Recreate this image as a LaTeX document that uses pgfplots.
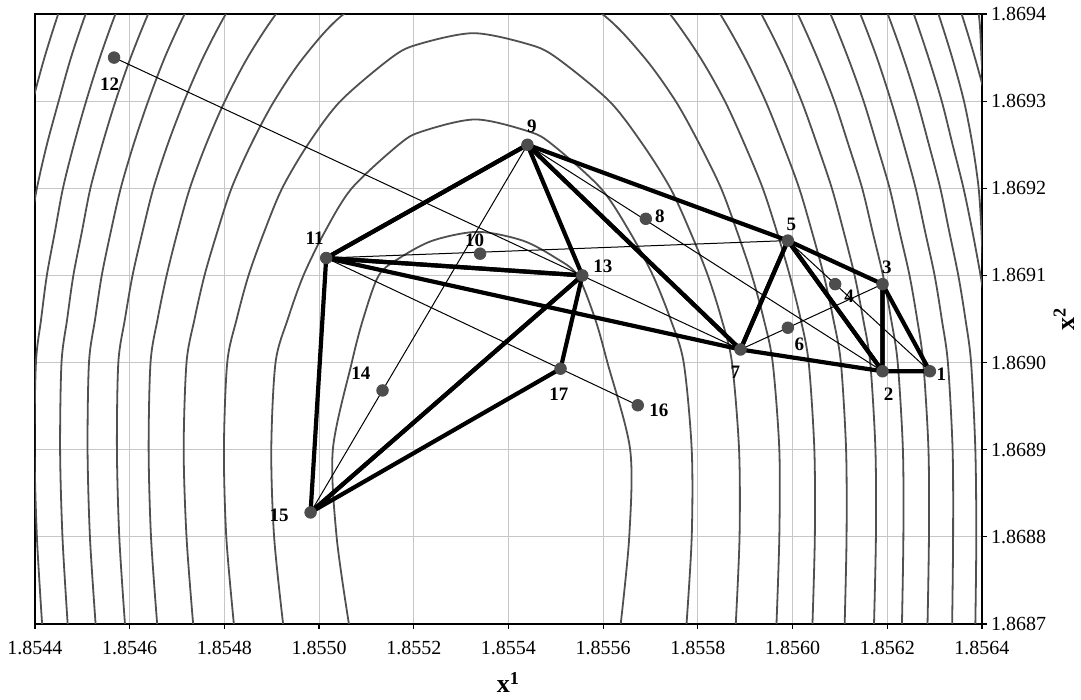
\documentclass[border=0pt]{standalone}
\usepackage{fontspec}
\setmainfont{Liberation Serif}
\usepackage{pgfplots}
\pgfplotsset{compat=1.18}
\usepackage{pgfplotstable}

\definecolor{ptgray}{HTML}{4D4D4D}
\definecolor{cgray}{HTML}{505050}

% points of the simplex search: x, y, label, label offset (pt)
\pgfplotstableread{
x        y        lab dx    dy
1.85629  1.86899  1   5.8   -1.7
1.85619  1.86899  2   3.0   -11.3
1.85619  1.86909  3   2.2   8.3
1.85609  1.86909  4   7.0   -5.8
1.85599  1.86914  5   1.8   8.3
1.85599  1.86904  6   5.8   -8.3
1.85589  1.869015 7   -2.5  -11.2
1.85569  1.869165 8   7.0   1.2
1.85544  1.86925  9   2.2   9.2
1.85534  1.869125 10  -2.7  6.5
1.855015 1.86912  11  -5.8  9.7
1.854567 1.86935  12  -2.2  -13.3
1.855556 1.8691   13  10.3  4.7
1.855134 1.868968 14  -10.8 8.8
1.854982 1.868828 15  -15.7 -1.2
1.855673 1.868951 16  10.5  -2.7
1.85551  1.868993 17  -0.8  -13
}\pts

\begin{document}
\begin{tikzpicture}
\begin{axis}[
  name=ax, at={(0,0)}, anchor=south west,
  scale only axis, width=473.5pt, height=305pt,
  xmin=1.8544, xmax=1.8564, ymin=1.8687, ymax=1.8694,
  xtick={1.8544,1.8546,1.8548,1.8550,1.8552,1.8554,1.8556,1.8558,1.8560,1.8562,1.8564},
  xticklabels={1.8544,1.8546,1.8548,1.8550,1.8552,1.8554,1.8556,1.8558,1.8560,1.8562,1.8564},
  ytick={1.8687,1.8688,1.8689,1.8690,1.8691,1.8692,1.8693,1.8694},
  yticklabels={1.8687,1.8688,1.8689,1.8690,1.8691,1.8692,1.8693,1.8694},
  scaled ticks=false,
  xtick pos=bottom, ytick pos=right, yticklabel pos=right,
  tick align=outside, major tick length=2.5pt,
  grid=major, major grid style={black!22, line width=0.5pt},
  axis line style={black, line width=0.6pt},
  tick style={black, line width=0.6pt},
  ticklabel style={font=\fontsize{10}{12}\selectfont},
  xticklabel style={yshift=-2.5pt},
  yticklabel style={xshift=-1.5pt},
  xlabel={\textbf{x\textsuperscript{1}}},
  ylabel={\textbf{x\textsuperscript{2}}},
  xlabel style={font=\fontsize{13}{15}\selectfont, at={(rel axis cs:0.5,0)}, anchor=base, yshift=-34.5pt},
  ylabel style={font=\fontsize{13}{15}\selectfont, at={(rel axis cs:1,0.5)}, anchor=center, yshift=-41pt},
  contour/.style={cgray, line width=0.9pt, smooth},
]

% level curves of the objective
\addplot[contour] coordinates {(1.855063,1.8687) (1.855037,1.8688) (1.855029,1.8689) (1.855069,1.8690) (1.855093,1.86905) (1.855126,1.8691) (1.855170,1.86912) (1.855240,1.86914) (1.855335,1.86915) (1.855430,1.86914) (1.855500,1.86912) (1.855546,1.8691) (1.855583,1.86905) (1.855609,1.8690) (1.855657,1.8689) (1.855655,1.8688) (1.855637,1.8687)};
\addplot[contour] coordinates {(1.854924,1.8687) (1.854905,1.8688) (1.854899,1.8689) (1.854908,1.8690) (1.854934,1.86905) (1.854967,1.8691) (1.855012,1.86915) (1.855069,1.8692) (1.855168,1.86925) (1.855216,1.869265) (1.855330,1.869279) (1.855444,1.869265) (1.855493,1.86925) (1.855595,1.8692) (1.855656,1.86915) (1.855705,1.8691) (1.855742,1.86905) (1.855770,1.8690) (1.855787,1.8689) (1.855787,1.8688) (1.855776,1.8687)};
\addplot[contour] coordinates {(1.854820,1.8687) (1.854804,1.8688) (1.854799,1.8689) (1.854806,1.8690) (1.854826,1.86905) (1.854851,1.8691) (1.854884,1.86915) (1.854922,1.8692) (1.854976,1.86925) (1.855045,1.8693) (1.855153,1.86935) (1.855208,1.869365) (1.855326,1.869378) (1.855444,1.869365) (1.855501,1.86935) (1.855613,1.8693) (1.855684,1.86925) (1.855742,1.8692) (1.855784,1.86915) (1.855821,1.8691) (1.855850,1.86905) (1.855872,1.8690) (1.855887,1.8689) (1.855888,1.8688) (1.855880,1.8687)};
\addplot[contour] coordinates {(1.854734,1.8687) (1.854720,1.8688) (1.854714,1.8689) (1.854720,1.8690) (1.854737,1.86905) (1.854758,1.8691) (1.854785,1.86915) (1.854815,1.8692) (1.854856,1.86925) (1.854905,1.8693) (1.854967,1.86935) (1.855052,1.8694) (1.855203,1.86945) (1.855322,1.869461) (1.855443,1.86945) (1.855598,1.8694) (1.855687,1.86935) (1.855753,1.8693) (1.855804,1.86925) (1.855849,1.8692) (1.855883,1.86915) (1.855914,1.8691) (1.855939,1.86905) (1.855958,1.8690) (1.855972,1.8689) (1.855972,1.8688) (1.855966,1.8687)};
\addplot[contour] coordinates {(1.854658,1.8687) (1.854645,1.8688) (1.854640,1.8689) (1.854644,1.8690) (1.854659,1.86905) (1.854678,1.8691) (1.854701,1.86915) (1.854727,1.8692) (1.854761,1.86925) (1.854801,1.8693) (1.854849,1.86935) (1.854909,1.8694) (1.854986,1.86945) (1.855101,1.8695) (1.855541,1.8695) (1.855660,1.86945) (1.855741,1.8694) (1.855805,1.86935) (1.855857,1.8693) (1.855899,1.86925) (1.855937,1.8692) (1.855967,1.86915) (1.855994,1.8691) (1.856017,1.86905) (1.856034,1.8690) (1.856046,1.8689) (1.856047,1.8688) (1.856042,1.8687)};
\addplot[contour] coordinates {(1.854590,1.8687) (1.854578,1.8688) (1.854573,1.8689) (1.854576,1.8690) (1.854590,1.86905) (1.854606,1.8691) (1.854627,1.86915) (1.854650,1.8692) (1.854680,1.86925) (1.854715,1.8693) (1.854755,1.86935) (1.854803,1.8694) (1.854862,1.86945) (1.854937,1.8695) (1.855705,1.8695) (1.855784,1.86945) (1.855847,1.8694) (1.855899,1.86935) (1.855943,1.8693) (1.855980,1.86925) (1.856014,1.8692) (1.856041,1.86915) (1.856066,1.8691) (1.856086,1.86905) (1.856102,1.8690) (1.856113,1.8689) (1.856114,1.8688) (1.856110,1.8687)};
\addplot[contour] coordinates {(1.854528,1.8687) (1.854516,1.8688) (1.854511,1.8689) (1.854514,1.8690) (1.854527,1.86905) (1.854541,1.8691) (1.854560,1.86915) (1.854581,1.8692) (1.854608,1.86925) (1.854639,1.8693) (1.854674,1.86935) (1.854716,1.8694) (1.854765,1.86945) (1.854825,1.8695) (1.855817,1.8695) (1.855881,1.86945) (1.855934,1.8694) (1.855980,1.86935) (1.856019,1.8693) (1.856052,1.86925) (1.856083,1.8692) (1.856108,1.86915) (1.856131,1.8691) (1.856149,1.86905) (1.856164,1.8690) (1.856175,1.8689) (1.856176,1.8688) (1.856172,1.8687)};
\addplot[contour] coordinates {(1.854469,1.8687) (1.854458,1.8688) (1.854453,1.8689) (1.854456,1.8690) (1.854468,1.86905) (1.854481,1.8691) (1.854499,1.86915) (1.854517,1.8692) (1.854542,1.86925) (1.854570,1.8693) (1.854602,1.86935) (1.854639,1.8694) (1.854682,1.86945) (1.854733,1.8695) (1.855909,1.8695) (1.855964,1.86945) (1.856011,1.8694) (1.856052,1.86935) (1.856088,1.8693) (1.856118,1.86925) (1.856147,1.8692) (1.856169,1.86915) (1.856191,1.8691) (1.856208,1.86905) (1.856222,1.8690) (1.856233,1.8689) (1.856234,1.8688) (1.856231,1.8687)};
\addplot[contour] coordinates {(1.854415,1.8687) (1.854404,1.8688) (1.854399,1.8689) (1.854402,1.8690) (1.854413,1.86905) (1.854425,1.8691) (1.854442,1.86915) (1.854459,1.8692) (1.854482,1.86925) (1.854508,1.8693) (1.854537,1.86935) (1.854570,1.8694) (1.854609,1.86945) (1.854654,1.8695) (1.855988,1.8695) (1.856037,1.86945) (1.856080,1.8694) (1.856117,1.86935) (1.856150,1.8693) (1.856178,1.86925) (1.856205,1.8692) (1.856226,1.86915) (1.856247,1.8691) (1.856263,1.86905) (1.856276,1.8690) (1.856287,1.8689) (1.856288,1.8688) (1.856285,1.8687)};
\addplot[contour] coordinates {(1.854363,1.8687) (1.854353,1.8688) (1.854348,1.8689) (1.854350,1.8690) (1.854361,1.86905) (1.854372,1.8691) (1.854388,1.86915) (1.854404,1.8692) (1.854425,1.86925) (1.854450,1.8693) (1.854476,1.86935) (1.854507,1.8694) (1.854543,1.86945) (1.854584,1.8695) (1.856058,1.8695) (1.856103,1.86945) (1.856143,1.8694) (1.856178,1.86935) (1.856208,1.8693) (1.856235,1.86925) (1.856260,1.8692) (1.856280,1.86915) (1.856300,1.8691) (1.856315,1.86905) (1.856328,1.8690) (1.856338,1.8689) (1.856339,1.8688) (1.856337,1.8687)};
\addplot[contour] coordinates {(1.854314,1.8687) (1.854304,1.8688) (1.854300,1.8689) (1.854301,1.8690) (1.854311,1.86905) (1.854322,1.8691) (1.854337,1.86915) (1.854352,1.8692) (1.854372,1.86925) (1.854395,1.8693) (1.854420,1.86935) (1.854449,1.8694) (1.854482,1.86945) (1.854519,1.8695) (1.856123,1.8695) (1.856164,1.86945) (1.856201,1.8694) (1.856234,1.86935) (1.856263,1.8693) (1.856288,1.86925) (1.856312,1.8692) (1.856331,1.86915) (1.856350,1.8691) (1.856365,1.86905) (1.856377,1.8690) (1.856386,1.8689) (1.856388,1.8688) (1.856386,1.8687)};
\addplot[contour] coordinates {(1.856182,1.8695) (1.856221,1.86945) (1.856256,1.8694) (1.856287,1.86935) (1.856315,1.8693) (1.856338,1.86925) (1.856361,1.8692) (1.856380,1.86915) (1.856397,1.8691) (1.856412,1.86905) (1.856423,1.8690) (1.856433,1.8689)};
\addplot[contour] coordinates {(1.856238,1.8695) (1.856275,1.86945) (1.856308,1.8694) (1.856337,1.86935) (1.856362,1.8693) (1.856380,1.86925) (1.856393,1.8692) (1.856399,1.86915) (1.856403,1.8691) (1.856410,1.86905)};
\addplot[contour] coordinates {(1.856290,1.8695) (1.856325,1.86945) (1.856357,1.8694) (1.856385,1.86935) (1.856410,1.8693) (1.856432,1.86925)};
\addplot[contour] coordinates {(1.856340,1.8695) (1.856370,1.86945) (1.856393,1.8694) (1.856399,1.86935) (1.856404,1.8693)};

% trial steps (thin)
\addplot[black, line width=0.5pt] coordinates {(1.85629,1.86899) (1.85599,1.86914)};
\addplot[black, line width=0.5pt] coordinates {(1.85619,1.86909) (1.85589,1.869015)};
\addplot[black, line width=0.5pt] coordinates {(1.85619,1.86899) (1.85544,1.86925)};
\addplot[black, line width=0.5pt] coordinates {(1.85599,1.86914) (1.855015,1.86912)};
\addplot[black, line width=0.5pt] coordinates {(1.854567,1.86935) (1.85589,1.869015)};
\addplot[black, line width=0.5pt] coordinates {(1.85544,1.86925) (1.854982,1.868828)};
\addplot[black, line width=0.5pt] coordinates {(1.855015,1.86912) (1.855673,1.868951)};

% simplices (thick)
\addplot[black, line width=2.1pt, line join=round] coordinates {(1.85629,1.86899) (1.85619,1.86899) (1.85619,1.86909) (1.85629,1.86899)};
\addplot[black, line width=2.1pt, line join=round] coordinates {(1.85619,1.86899) (1.85619,1.86909) (1.85599,1.86914) (1.85619,1.86899)};
\addplot[black, line width=2.1pt, line join=round] coordinates {(1.85619,1.86899) (1.85599,1.86914) (1.85589,1.869015) (1.85619,1.86899)};
\addplot[black, line width=2.1pt, line join=round] coordinates {(1.85599,1.86914) (1.85589,1.869015) (1.85544,1.86925) (1.85599,1.86914)};
\addplot[black, line width=2.1pt, line join=round] coordinates {(1.85589,1.869015) (1.85544,1.86925) (1.855015,1.86912) (1.85589,1.869015)};
\addplot[black, line width=2.1pt, line join=round] coordinates {(1.85544,1.86925) (1.855015,1.86912) (1.855556,1.8691) (1.85544,1.86925)};
\addplot[black, line width=2.1pt, line join=round] coordinates {(1.855015,1.86912) (1.855556,1.8691) (1.854982,1.868828) (1.855015,1.86912)};
\addplot[black, line width=2.1pt, line join=round] coordinates {(1.855556,1.8691) (1.854982,1.868828) (1.85551,1.868993) (1.855556,1.8691)};

% points with their numbers
\addplot[only marks, mark=*, mark size=2.9pt, color=ptgray,
  point meta=explicit symbolic,
  visualization depends on={\thisrow{dx}\as\dx},
  visualization depends on={\thisrow{dy}\as\dy},
  nodes near coords,
  nodes near coords style={font=\bfseries\fontsize{9.5}{11}\selectfont, text=black,
    anchor=center, inner sep=0pt, xshift={\dx pt}, yshift={\dy pt}}]
  table[x=x, y=y, meta=lab] {\pts};
\end{axis}
\path (-17.5pt,-37pt) rectangle (523pt,312pt);
\end{tikzpicture}
\end{document}
